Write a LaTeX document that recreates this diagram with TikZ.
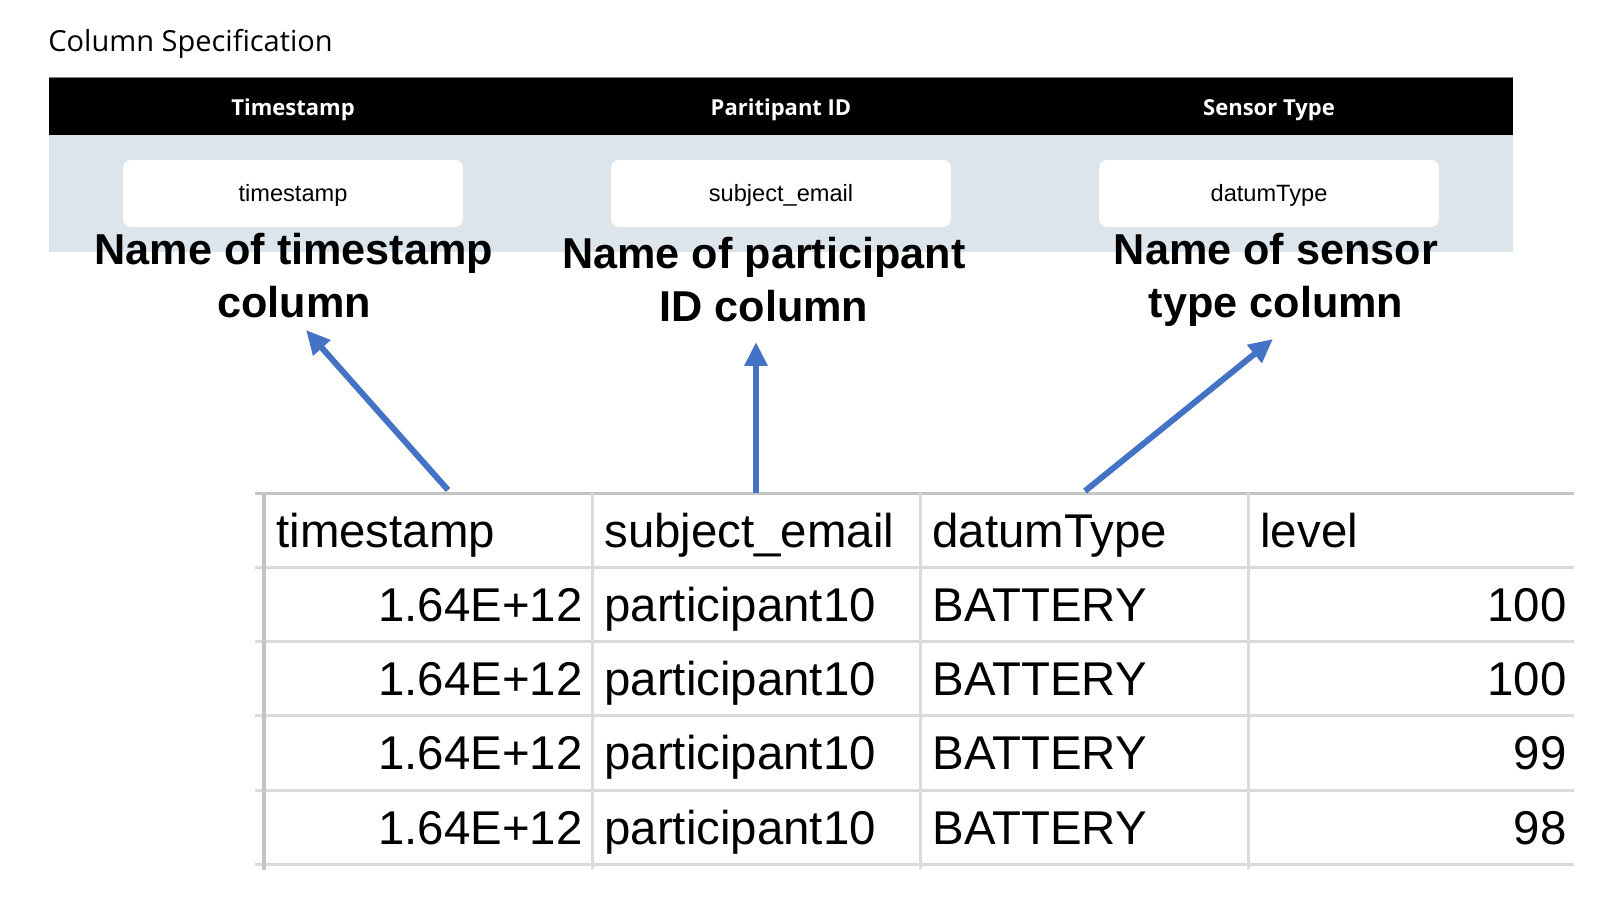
\documentclass[tikz,border=0pt]{standalone}
\usepackage{fontspec}
\setmainfont{Liberation Sans}
\newfontfamily\uifont{Open Sans}
\usetikzlibrary{arrows.meta}
\definecolor{arrowblue}{RGB}{68,114,196}
\definecolor{panelblue}{RGB}{220,228,236}
\definecolor{gridgray}{RGB}{218,218,218}
\definecolor{gridtop}{RGB}{196,196,196}
\tikzset{
  headtext/.style={anchor=base, inner sep=0, text=white, font=\uifont\bfseries\fontsize{11}{13}\selectfont},
  specbox/.style={fill=white, rounded corners=4pt, minimum width=170pt, minimum height=33.5pt, inner sep=0,
    text height=9.5pt, text depth=1pt, font=\fontsize{11.8}{13}\selectfont},
  annot/.style={anchor=base, inner sep=0, align=center, font=\bfseries\fontsize{21.6}{26.5}\selectfont},
  cellL/.style={anchor=base west, inner sep=0, font=\fontsize{23.7}{28}\selectfont},
  cellR/.style={anchor=base east, inner sep=0, font=\fontsize{23.7}{28}\selectfont},
  hline/.style={draw=gridgray, line width=1.5pt},
  arr/.style={draw=arrowblue, line width=3pt, -{Triangle[length=12pt,width=11pt]}},
}
\begin{document}
\begin{tikzpicture}[x=0.5pt,y=-0.5pt]
\useasboundingbox (0,0) rectangle (1620,908);
\fill[white] (0,0) rectangle (1620,908);

% title
\node[anchor=base west, inner sep=0, font=\uifont\fontsize{14.5}{16}\selectfont] (title) at (48,52) {Column Specification};

% header bar and panel
\fill[black] (49,77) rectangle (1513,135);
\draw[gray, line width=0.4pt] (49,77) -- (1513,77);
\fill[panelblue] (49,135) rectangle (1513,252);

\node[headtext] (h1) at (293,116) {Timestamp};
\node[headtext] (h2) at (781,116) {Paritipant ID};
\node[headtext] (h3) at (1269,116) {Sensor Type};

\node[specbox] (b1) at (293,193.5) {timestamp};
\node[specbox] (b2) at (781,193.5) {subject\_email};
\node[specbox] (b3) at (1269,193.5) {datumType};

% annotations (anchor base = baseline of the last line)
\node[annot] (n1) at (294,318) {Name of timestamp\\column};
\node[annot] (n2) at (764,322) {Name of participant\\ID column};
\node[annot] (n3) at (1276,318) {Name of sensor\\type column};

% table grid
\foreach \yy in {567,641,715,790,864} \draw[hline] (255,\yy) -- (1574,\yy);
\draw[draw=gridtop, line width=1.5pt] (255,493) -- (1574,493);
\foreach \xx in {592,920,1248} \draw[hline] (\xx,493) -- (\xx,869);
\draw[draw=gridtop, line width=2pt] (264,493) -- (264,870);

% header row
\node[cellL] (c11) at (276,547) {timestamp};
\node[cellL] (c12) at (604,547) {subject\_email};
\node[cellL] (c13) at (932,547) {datumType};
\node[cellL] (c14) at (1260,547) {level};
% data rows
\node[cellR] (c21) at (583,621) {1.64E+12};
\node[cellL] (c22) at (604,621) {participant10};
\node[cellL] (c23) at (932,621) {BATTERY};
\node[cellR] (c24) at (1567,621) {100};
\node[cellR] (c31) at (583,695) {1.64E+12};
\node[cellL] (c32) at (604,695) {participant10};
\node[cellL] (c33) at (932,695) {BATTERY};
\node[cellR] (c34) at (1567,695) {100};
\node[cellR] (c41) at (583,769) {1.64E+12};
\node[cellL] (c42) at (604,769) {participant10};
\node[cellL] (c43) at (932,769) {BATTERY};
\node[cellR] (c44) at (1567,769) {99};
\node[cellR] (c51) at (583,844) {1.64E+12};
\node[cellL] (c52) at (604,844) {participant10};
\node[cellL] (c53) at (932,844) {BATTERY};
\node[cellR] (c54) at (1567,844) {98};

% arrows
\coordinate (t1) at (448,490);
\coordinate (p1) at (306,330);
\coordinate (t2) at (756,493);
\coordinate (p2) at (756,342);
\coordinate (t3) at (1085,491);
\coordinate (p3) at (1273,339);
\draw[arr] (t1) -- (p1);
\draw[arr] (t2) -- (p2);
\draw[arr] (t3) -- (p3);
\end{tikzpicture}
\end{document}
